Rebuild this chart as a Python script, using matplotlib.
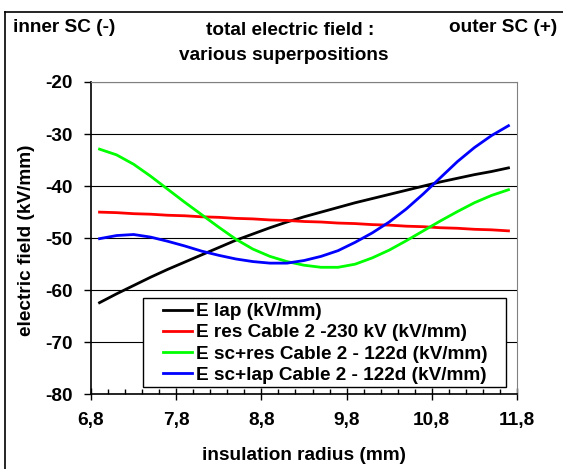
import matplotlib
matplotlib.use("Agg")
import matplotlib.pyplot as plt
from matplotlib.lines import Line2D
from matplotlib.patches import Rectangle
from matplotlib.ticker import MultipleLocator

plt.rcParams['font.family'] = ['Liberation Sans', 'DejaVu Sans']
plt.rcParams['font.weight'] = 'bold'
plt.rcParams['axes.unicode_minus'] = False

# insulation radius (mm)
radius = [6.9, 7.1, 7.3, 7.5, 7.7, 7.9, 8.1, 8.3, 8.5, 8.7, 8.9, 9.1, 9.3,
          9.5, 9.7, 9.9, 10.1, 10.3, 10.5, 10.7, 10.9, 11.1, 11.3, 11.5, 11.7]

# field values (kV/mm)
e_lap = [-62.4, -60.7, -59.1, -57.5, -56.0, -54.6, -53.2, -51.8, -50.4, -49.2,
         -48.0, -46.9, -45.9, -45.0, -44.1, -43.2, -42.4, -41.6, -40.8, -40.0,
         -39.2, -38.5, -37.8, -37.2, -36.5]
e_res = [-45.0, -45.1, -45.3, -45.4, -45.6, -45.7, -45.9, -46.0, -46.2, -46.3,
         -46.5, -46.6, -46.8, -46.9, -47.1, -47.2, -47.4, -47.5, -47.7, -47.8,
         -48.0, -48.1, -48.3, -48.4, -48.6]
e_sc_res = [-32.9, -34.0, -35.8, -38.1, -40.6, -43.1, -45.5, -47.9, -50.2, -52.1,
            -53.5, -54.5, -55.2, -55.6, -55.6, -55.0, -53.8, -52.3, -50.5, -48.6,
            -46.7, -44.9, -43.2, -41.8, -40.7]
e_sc_lap = [-50.1, -49.5, -49.3, -49.8, -50.6, -51.5, -52.5, -53.3, -54.0, -54.5,
            -54.8, -54.8, -54.3, -53.5, -52.4, -50.8, -49.0, -46.9, -44.4, -41.5,
            -38.4, -35.3, -32.6, -30.3, -28.4]

labels = ['E lap (kV/mm)',
          'E res Cable 2 -230 kV (kV/mm)',
          'E sc+res Cable 2 - 122d (kV/mm)',
          'E sc+lap Cable 2 - 122d (kV/mm)']
colors = ['black', '#ff0000', '#00ff00', '#0000ff']

x_ticks = [6.8, 7.8, 8.8, 9.8, 10.8, 11.8]
x_ticklabels = ['6,8', '7,8', '8,8', '9,8', '10,8', '11,8']
y_ticks = [-80, -70, -60, -50, -40, -30, -20]

FS = 13.7
W, H = 563, 469

fig = plt.figure(figsize=(W / 100, H / 100), dpi=100)
ax = fig.add_axes([91 / W, 74.7 / H, 426 / W, 312.3 / H])

for ys, c, lab in zip([e_lap, e_res, e_sc_res, e_sc_lap], colors, labels):
    ax.plot(radius, ys, color=c, lw=2, label=lab)

ax.set_xlim(6.8, 11.8)
ax.set_ylim(-80, -20)
ax.set_xticks(x_ticks)
ax.set_xticklabels(x_ticklabels)
ax.xaxis.set_minor_locator(MultipleLocator(0.2))
ax.set_yticks(y_ticks)
ax.yaxis.grid(True, color='black', lw=0.8)
ax.set_axisbelow(True)

ax.tick_params(axis='x', which='major', direction='inout', length=9, width=1,
               pad=8, labelsize=FS)
ax.tick_params(axis='x', which='minor', direction='in', length=3.6, width=1)
ax.tick_params(axis='y', which='major', direction='out', length=5, width=1,
               pad=8, labelsize=FS)

for s in ['top', 'right']:
    ax.spines[s].set_color('#808080')
for s in ['left', 'bottom']:
    ax.spines[s].set_color('black')
    ax.spines[s].set_linewidth(1.2)

# legend box drawn as a plain rectangle, entries placed inside it
def px_to_ax(px, py):
    return (px - 91) / 426, (394.3 - py) / 312.3

bx0, by0 = px_to_ax(143, 386.5)
bx1, by1 = px_to_ax(506, 298)
ax.add_patch(Rectangle((bx0, by0), bx1 - bx0, by1 - by0, transform=ax.transAxes,
                       facecolor='white', edgecolor='black', lw=1, zorder=4.5))
lx, ly = px_to_ax(163, 303)
leg = ax.legend(loc='upper left', bbox_to_anchor=(lx, ly), borderaxespad=0,
                borderpad=0, fontsize=FS, frameon=False, handlelength=1.55,
                handletextpad=0.2, labelspacing=0.2)
leg.set_zorder(5)

fig.text(304 / W, 1 - 455 / H, 'insulation radius (mm)', ha='center',
         va='center', fontsize=FS, fontweight='bold')
fig.text(27 / W, 1 - 240 / H, 'electric field (kV/mm)', rotation=90,
         ha='center', va='center', fontsize=FS, fontweight='bold')

fig.text(13 / W, 1 - 28 / H, 'inner SC (-)', ha='left', va='center',
         fontsize=FS, fontweight='bold')
fig.text(557 / W, 1 - 28 / H, 'outer SC (+)', ha='right', va='center',
         fontsize=FS, fontweight='bold')
fig.text(290 / W, 1 - 30 / H, 'total electric field :', ha='center',
         va='center', fontsize=FS, fontweight='bold')
fig.text(284 / W, 1 - 55 / H, 'various superpositions', ha='center',
         va='center', fontsize=FS, fontweight='bold')

# outer chart frame (top and left edges)
fig.add_artist(Line2D([5 / W, 1], [1 - 12 / H, 1 - 12 / H],
                      transform=fig.transFigure, color='black', lw=1.2))
fig.add_artist(Line2D([5 / W, 5 / W], [0, 1 - 12 / H],
                      transform=fig.transFigure, color='black', lw=1.2))

fig.savefig('out.png', dpi=100)
